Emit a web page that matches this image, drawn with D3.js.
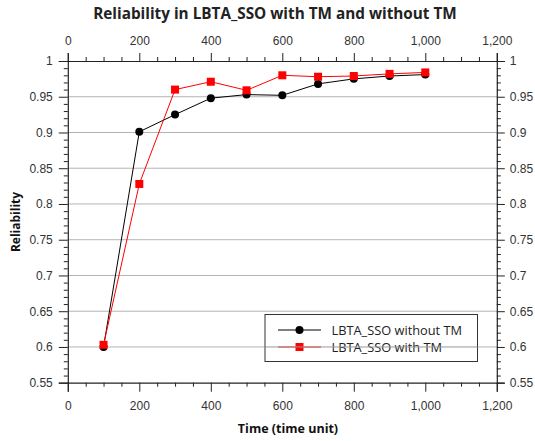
<!DOCTYPE html>
<html>
<head>
<meta charset="utf-8">
<script src="https://cdn.jsdelivr.net/npm/d3@7/dist/d3.min.js"></script>
<style>
  html, body { margin: 0; padding: 0; background: #fff; }
  svg { display: block; font-family: "Open Sans", "Noto Sans", sans-serif; }
  .tick text { fill: #333; font-size: 12px; }
  .domain, .tick line { stroke: #222; }
</style>
</head>
<body>
<svg id="chart" width="535" height="441"></svg>
<script>
// Reliability over time for LBTA_SSO, with and without TM
const times = [100, 200, 300, 400, 500, 600, 700, 800, 900, 1000];
const withoutTM = [0.600, 0.901, 0.925, 0.948, 0.953, 0.952, 0.968, 0.975, 0.979, 0.981];
const withTM = [0.603, 0.828, 0.960, 0.971, 0.959, 0.980, 0.978, 0.979, 0.982, 0.984];

const xTicks = [0, 200, 400, 600, 800, 1000, 1200];
const yTicks = [0.55, 0.6, 0.65, 0.7, 0.75, 0.8, 0.85, 0.9, 0.95, 1];
const seriesNames = ["LBTA_SSO without TM", "LBTA_SSO with TM"];

const svg = d3.select("#chart");
const plotLeft = 67.8, plotRight = 496.8, plotTop = 61, plotBottom = 382.7;

const x = d3.scaleLinear().domain([0, 1200]).range([plotLeft, plotRight]);
const y = d3.scaleLinear().domain([0.55, 1]).range([plotBottom, plotTop]);

const fmtX = d3.format(",");
const fmtY = d => String(+d.toFixed(2));

// horizontal grid
svg.append("g").selectAll("line").data(yTicks.slice(1, -1)).join("line")
  .attr("x1", plotLeft).attr("x2", plotRight)
  .attr("y1", d => y(d)).attr("y2", d => y(d))
  .attr("stroke", "#b4b4b4").attr("stroke-width", 1);

// minor ticks (every 50 on x, every 0.01 on y)
const xMinor = d3.range(0, 1201, 50).filter(v => v % 200 !== 0);
const yMinor = d3.range(55, 101).map(v => v / 100).filter(v => Math.round(v * 100) % 5 !== 0);

function drawAxis(axis, transform, minorTicks, minorAxis) {
  svg.append("g").attr("transform", transform)
    .call(minorAxis.tickValues(minorTicks).tickSize(4).tickFormat(""))
    .call(g => g.select(".domain").remove());
  return svg.append("g").attr("transform", transform).call(axis);
}

drawAxis(d3.axisBottom(x).tickValues(xTicks).tickFormat(fmtX).tickSizeOuter(0).tickSize(9).tickPadding(10),
  `translate(0,${plotBottom})`, xMinor, d3.axisBottom(x));
drawAxis(d3.axisTop(x).tickValues(xTicks).tickFormat(fmtX).tickSizeOuter(0).tickSize(8).tickPadding(8),
  `translate(0,${plotTop})`, xMinor, d3.axisTop(x));
drawAxis(d3.axisLeft(y).tickValues(yTicks).tickFormat(fmtY).tickSizeOuter(0).tickSize(9).tickPadding(6),
  `translate(${plotLeft},0)`, yMinor, d3.axisLeft(y));
drawAxis(d3.axisRight(y).tickValues(yTicks).tickFormat(fmtY).tickSizeOuter(0).tickSize(8).tickPadding(5),
  `translate(${plotRight},0)`, yMinor, d3.axisRight(y));

svg.selectAll(".domain").attr("stroke-width", 1.2);

// series lines and markers
const line = d3.line().x((d, i) => x(times[i])).y(d => y(d));

svg.append("path").datum(withoutTM).attr("d", line)
  .attr("fill", "none").attr("stroke", "#000").attr("stroke-width", 1);
svg.append("path").datum(withTM).attr("d", line)
  .attr("fill", "none").attr("stroke", "#ff0000").attr("stroke-width", 1);

svg.append("g").selectAll("circle").data(withoutTM).join("circle")
  .attr("cx", (d, i) => x(times[i])).attr("cy", d => y(d)).attr("r", 4)
  .attr("fill", "#000");
svg.append("g").selectAll("rect").data(withTM).join("rect")
  .attr("x", (d, i) => x(times[i]) - 4).attr("y", d => y(d) - 4)
  .attr("width", 8).attr("height", 8).attr("fill", "#ff0000");

// title and axis titles
svg.append("text").attr("x", 275).attr("y", 19).attr("text-anchor", "middle")
  .attr("font-size", 15.3).attr("font-weight", "bold").attr("fill", "#222")
  .text("Reliability in LBTA_SSO with TM and without TM");
svg.append("text").attr("x", 288).attr("y", 433).attr("text-anchor", "middle")
  .attr("font-size", 12.5).attr("font-weight", "bold").attr("fill", "#111")
  .text("Time (time unit)");
svg.append("text").attr("transform", "translate(20,222) rotate(-90)").attr("text-anchor", "middle")
  .attr("font-size", 12).attr("font-weight", "bold").attr("fill", "#111")
  .text("Reliability");

// legend
const lg = svg.append("g");
lg.append("rect").attr("x", 265).attr("y", 314.5).attr("width", 212.5).attr("height", 47)
  .attr("fill", "#fff").attr("stroke", "#333").attr("stroke-width", 1);
const rows = [330, 347];
seriesNames.forEach((name, i) => {
  const ry = rows[i];
  lg.append("line").attr("x1", 278).attr("x2", 321).attr("y1", ry).attr("y2", ry)
    .attr("stroke", i === 0 ? "#000" : "#ff0000").attr("stroke-width", 1);
  if (i === 0) {
    lg.append("circle").attr("cx", 299.5).attr("cy", ry).attr("r", 4).attr("fill", "#000");
  } else {
    lg.append("rect").attr("x", 295.5).attr("y", ry - 4).attr("width", 8).attr("height", 8).attr("fill", "#ff0000");
  }
  lg.append("text").attr("x", 331.5).attr("y", ry + 4.5).attr("font-size", 12.8).attr("fill", "#222").text(name);
});
// gridline passing through the legend, as in the plot
lg.append("line").attr("x1", 265).attr("x2", 477.5).attr("y1", y(0.6)).attr("y2", y(0.6))
  .attr("stroke", "#999").attr("stroke-width", 1);
</script>
</body>
</html>
